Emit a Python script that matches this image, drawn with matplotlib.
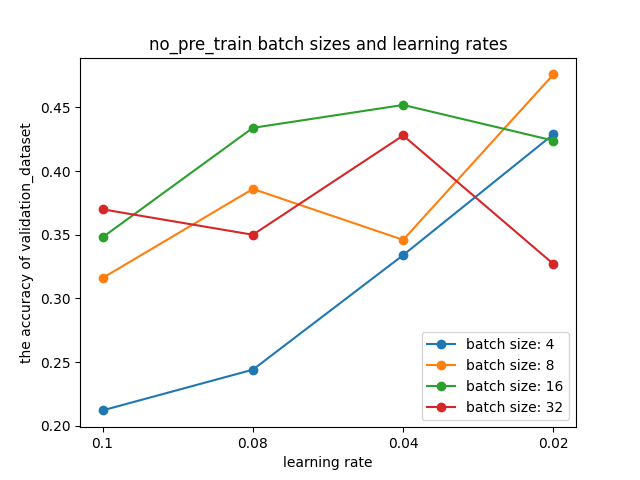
import matplotlib
matplotlib.use("Agg")
import matplotlib.pyplot as plt

learning_rates = ["0.1", "0.08", "0.04", "0.02"]
bs4 = [0.212, 0.244, 0.334, 0.429]
bs8 = [0.316, 0.386, 0.346, 0.476]
bs16 = [0.348, 0.434, 0.452, 0.424]
bs32 = [0.370, 0.350, 0.428, 0.327]

fig, ax = plt.subplots(figsize=(6.4, 4.8), dpi=100)
ax.plot(learning_rates, bs4, marker="o", label="batch size: 4")
ax.plot(learning_rates, bs8, marker="o", label="batch size: 8")
ax.plot(learning_rates, bs16, marker="o", label="batch size: 16")
ax.plot(learning_rates, bs32, marker="o", label="batch size: 32")
ax.set_title("no_pre_train batch sizes and learning rates")
ax.set_xlabel("learning rate")
ax.set_ylabel("the accuracy of validation_dataset")
ax.legend(loc="lower right")
fig.savefig("out.png")
